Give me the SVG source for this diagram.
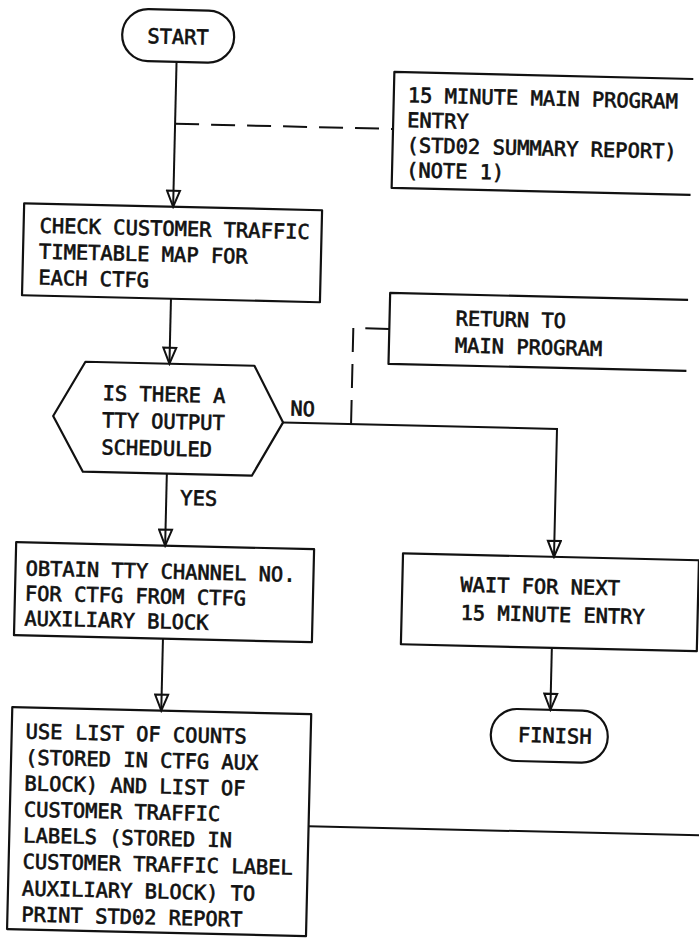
<svg xmlns="http://www.w3.org/2000/svg" width="699" height="938" viewBox="0 0 699 938">
  <style>
    .shape { fill: none; stroke: #111; stroke-width: 2.2; stroke-linejoin: round; }
    .ln { fill: none; stroke: #111; stroke-width: 2; }
    .dash { stroke-dasharray: 24 12; }
    .t { font-family: "DejaVu Sans Mono", "Liberation Mono", monospace; font-size: 20.4px; fill: #111; stroke: #111; stroke-width: 0.65; }
    .mid { text-anchor: middle; }
  </style>
  <defs>
    <!-- open triangular arrowhead, the line shows through it -->
    <marker id="arr" viewBox="-18 -8 20 16" refX="0" refY="0" markerWidth="20" markerHeight="16" markerUnits="userSpaceOnUse" orient="auto">
      <path d="M-16,-6.5 L0,0 L-16,6.5 Z" fill="none" stroke="#111" stroke-width="2" stroke-linejoin="miter"/>
    </marker>
  </defs>

  <rect width="699" height="938" fill="#fff"/>

  <!-- whole sheet sits slightly turned -->
  <g transform="rotate(1.35 349.5 469)">

    <g id="connectors">
      <path class="ln" d="M167 66 V211" marker-end="url(#arr)"/>
      <path class="ln dash" d="M167 128 H385"/>
      <path class="ln" d="M167 303 V368" marker-end="url(#arr)"/>
      <path class="ln" d="M167 478 V550" marker-end="url(#arr)"/>
      <path class="ln" d="M167 643 V715" marker-end="url(#arr)"/>
      <path class="ln" d="M282 424 H556 V552" marker-end="url(#arr)"/>
      <path class="ln dash" d="M386 328 H350 V424"/>
      <path class="ln" d="M556 643 V705" marker-end="url(#arr)"/>
      <path class="ln" d="M317 827 H720"/>
    </g>

    <g id="start">
      <rect class="shape" x="112" y="14" width="112" height="52" rx="26"/>
      <text class="t mid" x="168" y="48">START</text>
    </g>

    <g id="note-entry">
      <path class="shape" d="M684 71 H385 V187 H684"/>
      <text class="t" x="399" y="101">15 MINUTE MAIN PROGRAM</text>
      <text class="t" x="399" y="126">ENTRY</text>
      <text class="t" x="399" y="151">(STD02 SUMMARY REPORT)</text>
      <text class="t" x="399" y="176">(NOTE 1)</text>
    </g>

    <g id="check-map">
      <rect class="shape" x="18" y="211" width="298" height="92"/>
      <text class="t" x="34" y="240">CHECK CUSTOMER TRAFFIC</text>
      <text class="t" x="34" y="266">TIMETABLE MAP FOR</text>
      <text class="t" x="34" y="292">EACH CTFG</text>
    </g>

    <g id="tty-decision">
      <polygon class="shape" points="52,423 83,368 252,368 282,424 252,478 83,478"/>
      <text class="t" x="101" y="406">IS THERE A</text>
      <text class="t" x="101" y="433">TTY OUTPUT</text>
      <text class="t" x="101" y="460">SCHEDULED</text>
      <text class="t" x="289" y="417">NO</text>
      <text class="t" x="181" y="509">YES</text>
    </g>

    <g id="note-return">
      <path class="shape" d="M684 292 H386 V363 H684"/>
      <text class="t" x="452" y="323">RETURN TO</text>
      <text class="t" x="452" y="350">MAIN PROGRAM</text>
    </g>

    <g id="obtain-channel">
      <rect class="shape" x="18" y="550" width="298" height="93"/>
      <text class="t" x="28" y="583">OBTAIN TTY CHANNEL NO.</text>
      <text class="t" x="28" y="608">FOR CTFG FROM CTFG</text>
      <text class="t" x="28" y="633">AUXILIARY BLOCK</text>
    </g>

    <g id="wait-next">
      <rect class="shape" x="405" y="552" width="296" height="91"/>
      <text class="t" x="463" y="589">WAIT FOR NEXT</text>
      <text class="t" x="464" y="617">15 MINUTE ENTRY</text>
    </g>

    <g id="finish">
      <rect class="shape" x="497" y="705" width="117" height="52" rx="26"/>
      <text class="t mid" x="561" y="738">FINISH</text>
    </g>

    <g id="print-report">
      <rect class="shape" x="18" y="715" width="299" height="222"/>
      <text class="t" x="32" y="746">USE LIST OF COUNTS</text>
      <text class="t" x="32" y="772">(STORED IN CTFG AUX</text>
      <text class="t" x="32" y="798">BLOCK) AND LIST OF</text>
      <text class="t" x="32" y="824">CUSTOMER TRAFFIC</text>
      <text class="t" x="32" y="850">LABELS (STORED IN</text>
      <text class="t" x="32" y="876">CUSTOMER TRAFFIC LABEL</text>
      <text class="t" x="32" y="903">AUXILIARY BLOCK) TO</text>
      <text class="t" x="32" y="929">PRINT STD02 REPORT</text>
    </g>
  </g>
</svg>
